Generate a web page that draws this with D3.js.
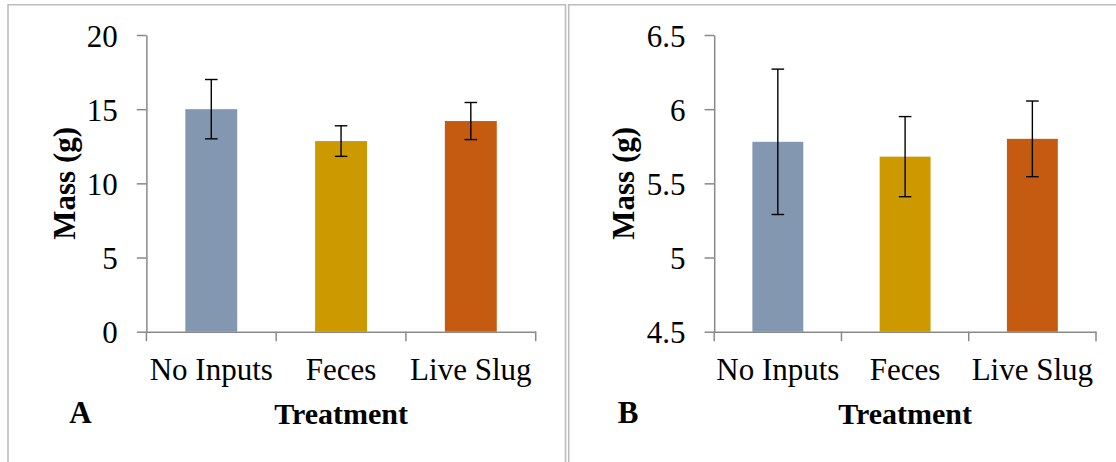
<!DOCTYPE html>
<html>
<head>
<meta charset="utf-8">
<script src="https://cdn.jsdelivr.net/npm/d3@7"></script>
<style>
html,body{margin:0;padding:0;background:#fff;}
svg{display:block;}
svg text{font-family:"Liberation Serif","Times New Roman",serif;}
</style>
</head>
<body>
<svg id="chart" width="1116" height="462"></svg>
<script>
const categories = ["No Inputs", "Feces", "Live Slug"];
const massA = [15.0, 12.85, 14.2];
const errA = [2.0, 1.03, 1.25];
const massB = [5.78, 5.68, 5.80];
const errB = [0.49, 0.27, 0.255];
const ticksA = [0, 5, 10, 15, 20];
const ticksB = [4.5, 5, 5.5, 6, 6.5];
const barColors = ["#8497B0", "#CC9A00", "#C55A11"];
const panelLabels = ["A", "B"];

const svg = d3.select("#chart");
const FONT = "Liberation Serif";
const axisColor = "#898989";

// panel frames
svg.append("path").attr("d", "M8,463 L8,4.7 L565.5,4.7 L565.5,463")
  .attr("fill", "none").attr("stroke", "#BDBDBD").attr("stroke-width", 1.6);
svg.append("path").attr("d", "M568.7,463 L568.7,4.7 L1117,4.7")
  .attr("fill", "none").attr("stroke", "#BDBDBD").attr("stroke-width", 1.6);

const panels = [
  {x0: 146.4, x1: 535.7, vals: massA, errs: errA, ticks: ticksA, fmt: d3.format("d"), label: panelLabels[0], labelX: 80.5, titleOff: 71},
  {x0: 714.2, x1: 1096, vals: massB, errs: errB, ticks: ticksB, fmt: d => String(d), label: panelLabels[1], labelX: 628, titleOff: 80}
];
const yTop = 35, yBot = 331.7;

panels.forEach(p => {
  const g = svg.append("g");
  const x = d3.scaleBand().domain(categories).range([p.x0, p.x1]).padding(0);
  const y = d3.scaleLinear().domain([p.ticks[0], p.ticks[p.ticks.length - 1]]).range([yBot, yTop]);
  const bw = x.bandwidth() * 0.4;

  // bars
  g.selectAll("rect.bar").data(categories).join("rect")
    .attr("class", "bar")
    .attr("x", d => x(d) + x.bandwidth() / 2 - bw / 2)
    .attr("width", bw)
    .attr("y", (d, i) => y(p.vals[i]))
    .attr("height", (d, i) => y(p.ticks[0]) - y(p.vals[i]))
    .attr("fill", (d, i) => barColors[i]);

  // y axis
  const ya = g.append("g").attr("transform", `translate(${p.x0},0)`)
    .call(d3.axisLeft(y).tickValues(p.ticks).tickFormat(p.fmt).tickSize(9.6).tickSizeOuter(0));
  ya.attr("font-family", null).attr("font-size", null);
  ya.select(".domain").attr("stroke", axisColor).attr("stroke-width", 1.5);
  ya.selectAll(".tick line").attr("stroke", axisColor).attr("stroke-width", 1.5);
  ya.selectAll(".tick text").attr("x", -28.6).attr("dy", "0.36em")
    .style("font-family", FONT).style("font-size", "31px").attr("fill", "#000");

  // x axis
  const xa = g.append("g").attr("transform", `translate(0,${yBot})`)
    .call(d3.axisBottom(x).tickSize(0).tickSizeOuter(0));
  xa.attr("font-family", null).attr("font-size", null);
  xa.select(".domain").attr("stroke", axisColor).attr("stroke-width", 1.5);
  xa.selectAll(".tick text").attr("y", 48.3).attr("dy", 0)
    .style("font-family", FONT).style("font-size", "31px").attr("fill", "#000");
  const bounds = categories.map(c => x(c)).concat([p.x1]);
  g.selectAll("line.xt").data(bounds).join("line")
    .attr("class", "xt")
    .attr("x1", d => d).attr("x2", d => d)
    .attr("y1", yBot).attr("y2", yBot + 9.5)
    .attr("stroke", axisColor).attr("stroke-width", 1.5);

  // error bars
  const eb = g.selectAll("g.err").data(categories).join("g").attr("class", "err");
  eb.append("line")
    .attr("x1", d => x(d) + x.bandwidth() / 2).attr("x2", d => x(d) + x.bandwidth() / 2)
    .attr("y1", (d, i) => y(p.vals[i] + p.errs[i])).attr("y2", (d, i) => y(p.vals[i] - p.errs[i]));
  eb.append("line")
    .attr("x1", d => x(d) + x.bandwidth() / 2 - 6.3).attr("x2", d => x(d) + x.bandwidth() / 2 + 6.3)
    .attr("y1", (d, i) => y(p.vals[i] + p.errs[i])).attr("y2", (d, i) => y(p.vals[i] + p.errs[i]));
  eb.append("line")
    .attr("x1", d => x(d) + x.bandwidth() / 2 - 6.3).attr("x2", d => x(d) + x.bandwidth() / 2 + 6.3)
    .attr("y1", (d, i) => y(p.vals[i] - p.errs[i])).attr("y2", (d, i) => y(p.vals[i] - p.errs[i]));
  eb.selectAll("line").attr("stroke", "#000").attr("stroke-width", 1.4);

  // axis titles
  g.append("text")
    .attr("transform", `translate(${p.x0 - p.titleOff},${(yTop + yBot) / 2}) rotate(-90)`)
    .attr("text-anchor", "middle")
    .style("font-family", FONT).style("font-size", "31px").style("font-weight", "bold")
    .text("Mass (g)");
  g.append("text")
    .attr("x", (p.x0 + p.x1) / 2).attr("y", 424.3)
    .attr("text-anchor", "middle")
    .style("font-family", FONT).style("font-size", "30px").style("font-weight", "bold")
    .text("Treatment");
  g.append("text")
    .attr("x", p.labelX).attr("y", 422.7)
    .attr("text-anchor", "middle")
    .style("font-family", FONT).style("font-size", "31px").style("font-weight", "bold")
    .text(p.label);
});
</script>
</body>
</html>
